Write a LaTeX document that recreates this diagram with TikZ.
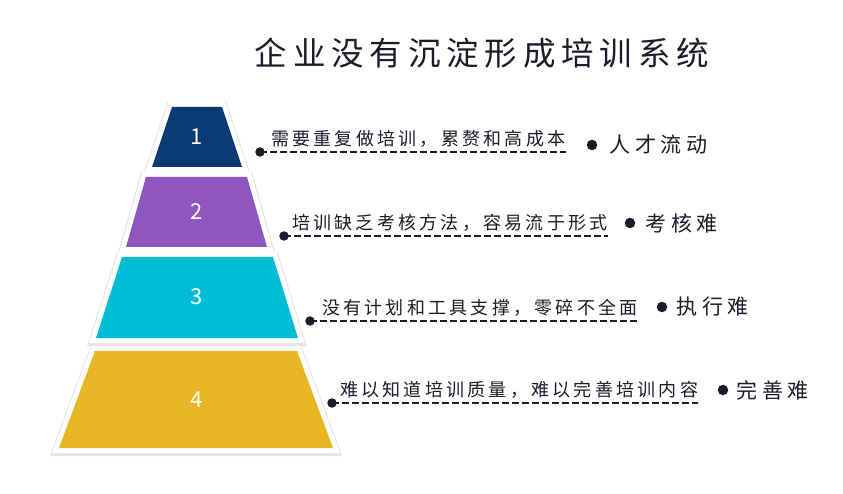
\documentclass[tikz,border=0pt]{standalone}
\usepackage{fontspec}
\setmainfont{Noto Sans CJK SC}
\newfontfamily\cjk[LetterSpace=18]{Noto Sans CJK SC}
\newfontfamily\cjkwide[LetterSpace=22]{Noto Sans CJK SC}
\usepackage{tikz}
\usetikzlibrary{
  positioning,
}
\definecolor{tierblue}{HTML}{0B3A74}
\definecolor{tierpurple}{HTML}{8E56BE}
\definecolor{tiercyan}{HTML}{00BCD4}
\definecolor{tiergold}{HTML}{E8B622}
\definecolor{inkdark}{HTML}{1B1B2B}
\definecolor{shadowgray}{HTML}{E4E5EA}

\begin{document}
\begin{tikzpicture}[
    x=1pt, y=-1pt,
    tier/.style={fill=#1, line join=miter,
                 preaction={draw=shadowgray, fill=shadowgray, line width=13pt,
                            transform canvas={yshift=-1.5pt}},
                 preaction={draw=white, fill=white, line width=10pt}},
    tiernum/.style={inner sep=0pt, text=white, font=\fontsize{22}{24}\selectfont},
    dot/.style={circle, fill=inkdark, inner sep=0pt, minimum size=9.5pt},
    desc/.style={inner sep=0pt, text=inkdark, font=\fontsize{18}{20}\selectfont\cjk},
    tag/.style={inner sep=0pt, text=inkdark, font=\fontsize{21}{23}\selectfont\cjkwide},
    leader/.style={draw=inkdark, line width=1.3pt, dash pattern=on 7pt off 3pt},
  ]
  \useasboundingbox (0,0) rectangle (843,494);

  \node[inner sep=0pt, text=inkdark, font=\fontsize{32.5}{35}\selectfont\cjk]
    (title) at (482,53) {企业没有沉淀形成培训系统};

  % pyramid tiers
  \path[tier=tierblue]   (172,107) -- (222,107) -- (242,167) -- (152,167) -- cycle;
  \path[tier=tierpurple] (146,177) -- (247,177) -- (267,247) -- (126,247) -- cycle;
  \path[tier=tiercyan]   (122,257) -- (273,257) -- (298,338) -- (96,338)  -- cycle;
  \path[tier=tiergold]   (95,351)  -- (297,351) -- (333,448) -- (59,448)  -- cycle;

  \node[tiernum] (t1) at (197,137) {1};
  \node[tiernum] (t2) at (197,212) {2};
  \node[tiernum] (t3) at (197,297) {3};
  \node[tiernum] (t4) at (197,400) {4};

  % descriptions
  \node[dot] (d1) at (260,152) {};
  \node[dot] (d2) at (284,236) {};
  \node[dot] (d3) at (310,321) {};
  \node[dot] (d4) at (332,403) {};

  \node[desc, anchor=base west] (s1) at (271,145.5) {需要重复做培训，累赘和高成本};
  \node[desc, anchor=base west] (s2) at (292,229.5) {培训缺乏考核方法，容易流于形式};
  \node[desc, anchor=base west] (s3) at (322,314.5) {没有计划和工具支撑，零碎不全面};
  \node[desc, anchor=base west] (s4) at (340,396.5) {难以知道培训质量，难以完善培训内容};

  \draw[leader] (d1.center) -- (d1 -| s1.east);
  \draw[leader] (d2.center) -- (d2 -| s2.east);
  \draw[leader] (d3.center) -- (d3 -| s3.east);
  \draw[leader] (d4.center) -- (d4 -| s4.east);

  % outcomes
  \node[dot, minimum size=10.5pt] (k1) at (592,145) {};
  \node[dot, minimum size=10.5pt] (k2) at (630,223) {};
  \node[dot, minimum size=10.5pt] (k3) at (662,307) {};
  \node[dot, minimum size=10.5pt] (k4) at (723,390) {};

  \node[tag, right=12pt of k1] (l1) {人才流动};
  \node[tag, right=10pt of k2] (l2) {考核难};
  \node[tag, right=9pt of k3]  (l3) {执行难};
  \node[tag, right=8pt of k4]  (l4) {完善难};
\end{tikzpicture}
\end{document}
